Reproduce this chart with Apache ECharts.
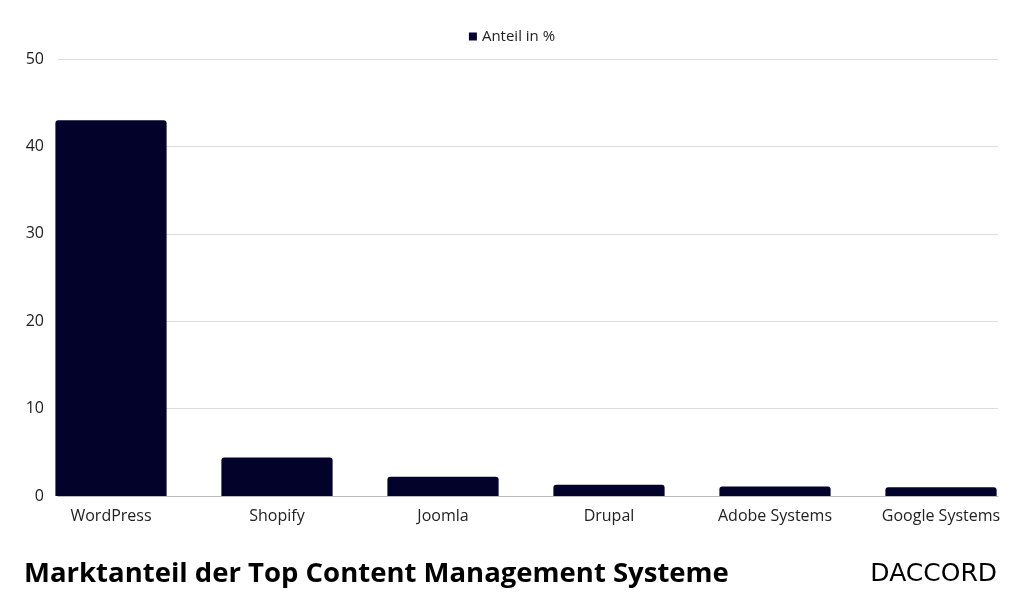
<!DOCTYPE html>
<html><head><meta charset="utf-8">
<script src="https://cdn.jsdelivr.net/npm/echarts@6/dist/echarts.min.js"></script>
<style>html,body{margin:0;padding:0;background:#fff}#c{width:1024px;height:614px}</style>
</head><body><div id="c"></div>
<script>
const categories = ["WordPress","Shopify","Joomla","Drupal","Adobe Systems","Google Systems"];
const shareValues = [43, 4.4, 2.2, 1.3, 1.1, 1.0];
const seriesName = "Anteil in %";
const F = "'Open Sans', 'Noto Sans', sans-serif";
const chart = echarts.init(document.getElementById('c'));
chart.setOption({
  animation:false,
  textStyle:{fontFamily:F},
  legend:{top:24,left:'center',itemWidth:8,itemHeight:8,icon:'rect',data:[seriesName],
    textStyle:{fontSize:15,color:'#222'}},
  grid:[{left:58,right:26,top:59,bottom:118},{left:28,right:-4,top:59,bottom:118}],
  xAxis:[{type:'category',gridIndex:0,data:categories,
    axisLine:{lineStyle:{color:'#bbb'}},axisTick:{show:false},axisLabel:{show:false}},
    {type:'category',gridIndex:1,data:categories,
    axisLine:{show:false},axisTick:{show:false},
    axisLabel:{fontSize:16,color:'#222',margin:12}}],
  yAxis:[{type:'value',gridIndex:0,min:0,max:50,interval:10,
    axisLabel:{fontSize:16,color:'#222',margin:14,align:'right'},
    splitLine:{lineStyle:{color:'#ddd'}}},
    {type:'value',gridIndex:1,min:0,max:50,interval:10,show:false,splitLine:{show:false}}],
  series:[{name:seriesName,type:'bar',xAxisIndex:1,yAxisIndex:1,data:shareValues,barCategoryGap:'33%',
    itemStyle:{color:'#03022b',borderRadius:[3,3,0,0]}}],
  graphic:[
    {type:'text',left:24,top:560,style:{text:'Marktanteil der Top Content Management Systeme',
      font:"bold 27.5px "+F,fill:'#000'}},
    {type:'text',right:27,top:562,style:{text:'DACCORD',
      font:"500 25px 'DejaVu Sans', sans-serif",fill:'#000'}}
  ]
});
</script></body></html>
